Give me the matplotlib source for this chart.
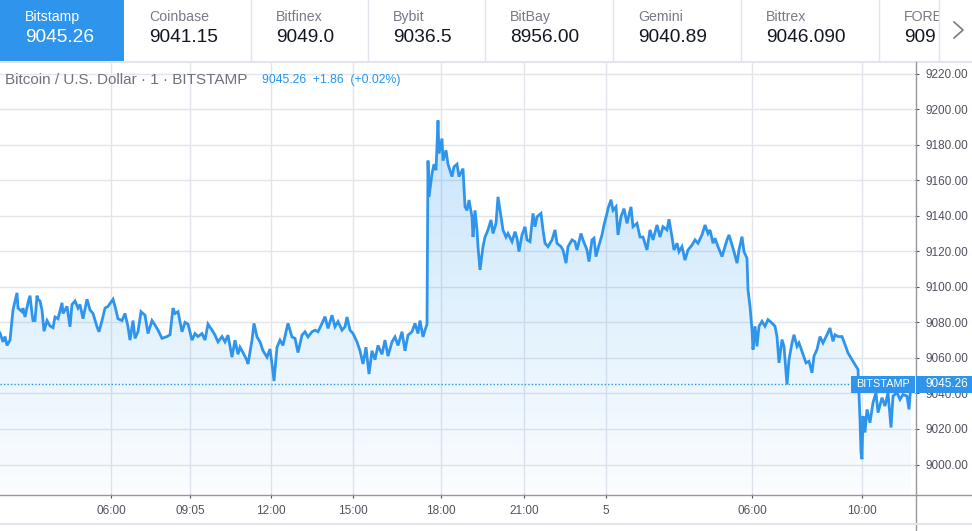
import numpy as np
import matplotlib
matplotlib.use("Agg")
import matplotlib.pyplot as plt
from matplotlib.patches import Polygon, Rectangle
from matplotlib.lines import Line2D

plt.rcParams['font.family'] = ['Liberation Sans', 'DejaVu Sans']

# ---- datos: ticker superior ----
exchanges = ["Bitstamp", "Coinbase", "Bitfinex", "Bybit", "BitBay", "Gemini", "Bittrex", "FORE"]
ex_prices = ["9045.26", "9041.15", "9049.0", "9036.5", "8956.00", "9040.89", "9046.090", "909"]

# ---- datos: serie BTC/USD (barra, precio) ----
bar_a = [0, 3, 5, 7, 10, 12, 13, 17, 18, 22, 23, 25, 28, 30, 32, 33, 35, 37, 38, 40,
         42, 44, 47, 50, 53, 55, 58, 62, 63, 67, 70, 72, 75, 78, 80, 83, 87, 90, 93, 97,
         99, 102, 105, 108, 113, 115, 118, 122, 125, 128, 130, 133, 135, 138, 141, 145, 148, 152, 155, 158,
         162, 167, 170, 173, 175, 178, 182, 185, 188, 192, 195, 198, 202, 205, 208, 212, 215, 218, 222, 225,
         228, 232, 235, 238]
price_a = [9074, 9069, 9072, 9067, 9070, 9081, 9087, 9096.6, 9088, 9086, 9088, 9083, 9091, 9095, 9085, 9081, 9081, 9095, 9093, 9092,
           9087, 9075, 9081, 9078, 9077, 9083, 9082, 9091, 9085, 9089, 9077.5, 9090, 9092, 9088, 9090, 9082, 9093, 9087, 9085, 9077.5,
           9074.7, 9081, 9088, 9089, 9093, 9089, 9082, 9081, 9085, 9077.5, 9070, 9081, 9071, 9074.7, 9086, 9084, 9073.7, 9081, 9078.5, 9075.6,
           9071, 9072, 9073, 9088, 9085, 9086, 9074.7, 9080, 9079, 9070, 9073.7, 9072, 9073.7, 9070, 9079, 9075.6, 9072.8, 9069, 9072, 9069,
           9072.8, 9060.4, 9070, 9062]

bar_b = [240, 243, 247, 248, 252, 254, 257, 260, 263, 267, 270, 272, 274, 277, 280, 283, 286, 288, 292, 295,
         298, 302, 305, 308, 312, 315, 318, 322, 325, 328, 332, 335, 338, 342, 345, 347, 350, 353, 357, 360,
         363, 366, 369, 372, 375, 378, 382, 385, 388, 392, 395, 398, 402, 405, 408, 412, 415, 418, 420, 423,
         425, 427]
price_b = [9066, 9063, 9058.5, 9056.6, 9070, 9079.4, 9071.8, 9069, 9064, 9060.4, 9065, 9056.6, 9047, 9066, 9070, 9067, 9074.7, 9079.4, 9071.8, 9071,
           9063, 9072.8, 9074.7, 9071.8, 9074.7, 9075.6, 9074.7, 9079.4, 9083.2, 9076.6, 9084, 9077.5, 9080.4, 9075.6, 9077.5, 9083, 9075.6, 9073.7, 9069, 9064,
           9056.6, 9066, 9050.9, 9064, 9059, 9067, 9062, 9070, 9061, 9069, 9071.8, 9067, 9074.7, 9064, 9072.8, 9074.7, 9079.4, 9073.7, 9081, 9071.8,
           9075.6, 9079]

bar_c = [428, 429, 432, 434, 436, 438, 439, 442, 443, 446, 448, 452, 454, 457, 459, 463, 465, 467, 469, 472,
         473, 475, 477, 478, 480, 483, 485, 488, 491, 493, 496, 498, 501, 503, 506, 508, 512, 515, 517, 519,
         522, 525, 527, 530, 533, 535, 537, 541, 543, 545, 548, 552, 555, 557, 561, 563, 566, 568, 572, 575,
         577, 581, 583, 587, 589, 592, 594, 596, 599, 602, 604, 607, 608, 611, 613, 616, 618, 621, 624, 627,
         631, 633, 637, 640, 643, 647, 650, 653, 657, 660]
price_c = [9171, 9150.6, 9163.7, 9169, 9165.6, 9193.6, 9175, 9183.4, 9171, 9176.8, 9169, 9162, 9167.5, 9169, 9162, 9166.5, 9145, 9143, 9148.8, 9139.4,
           9128, 9143, 9132, 9122.6, 9109.5, 9122.6, 9128, 9132, 9137.6, 9130, 9135.7, 9150.6, 9139.4, 9132, 9128, 9130, 9125.4, 9131, 9127.3, 9119.8,
           9129.2, 9133.8, 9126.4, 9125.4, 9141.3, 9133.8, 9139.4, 9141.3, 9132, 9124.5, 9122.6, 9126.4, 9132, 9124.5, 9122.6, 9120.7, 9113.3, 9122.6, 9126.4, 9125.4,
           9120.7, 9130, 9126.4, 9120.7, 9114.2, 9126.4, 9127.3, 9117, 9123.5, 9129.2, 9134.8, 9141.3, 9144, 9149, 9143, 9145, 9129.2, 9139.4, 9144, 9135.7,
           9145, 9133.8, 9135.7, 9128, 9128, 9120.7, 9132, 9126.4, 9134.8, 9128]

bar_d = [663, 667, 669, 672, 674, 677, 679, 682, 685, 688, 692, 695, 698, 702, 705, 708, 710, 713, 715, 718,
         722, 724, 727, 729, 732, 734, 737, 739, 742, 744, 747, 748, 750, 752, 753, 755, 757, 759, 762, 765,
         768, 772, 775, 777, 779, 782, 784, 787, 789, 792, 794, 797, 799, 803, 806, 809, 812, 814, 817, 820,
         823, 827, 830, 833, 835, 838, 842, 845, 848, 852, 855, 858, 860, 861, 862, 863, 865, 867, 870, 873,
         876, 878, 882, 885, 888, 891, 893, 897, 900, 903, 907, 909, 911]
price_d = [9133.8, 9132, 9138, 9128, 9120.7, 9124.5, 9119.8, 9122.6, 9115, 9120.7, 9123.5, 9126.4, 9124.5, 9129.2, 9134.8, 9130, 9132, 9124.5, 9127.3, 9122.6,
           9117, 9120.7, 9126.4, 9129.2, 9123.5, 9119.8, 9113.3, 9120.7, 9128.2, 9119.8, 9116, 9098.3, 9089, 9075.9, 9064.7, 9077.8, 9066.5, 9077.8, 9080.6, 9077.8,
           9081.5, 9079.6, 9077.8, 9072, 9057.2, 9070.3, 9066.5, 9045, 9059, 9068.4, 9073, 9066.5, 9068.4, 9061.9, 9057.2, 9058.1, 9051.6, 9061, 9064.7, 9072,
           9068.4, 9073, 9076.8, 9069.3, 9073, 9072, 9072, 9067.5, 9062.8, 9059, 9056.3, 9053.5, 9025.4, 9006.7, 9003, 9027.3, 9018, 9031, 9023.5, 9034.8,
           9040.4, 9029.2, 9037.6, 9032.9, 9040.4, 9020.8, 9038.5, 9040.4, 9036.6, 9039.4, 9038.5, 9031, 9045.26]

tick_bars = [111, 190, 271, 353, 441, 524, 606, 752, 862]
tick_labels = ["06:00", "09:05", "12:00", "15:00", "18:00", "21:00", "5", "06:00", "10:00"]
y_ticks = list(range(9000, 9221, 20))
last_price = 9045.26

bar = np.array(bar_a + bar_b + bar_c + bar_d, dtype=float)
price = np.array(price_a + price_b + price_c + price_d)
assert len(bar) == len(price)

#%% colores
blue = "#2f95ec"
grid_c = "#e3e5ec"
text_c = "#50535e"
W, H = 972, 531

def fx(px):
    return px / W

def fy(py):
    return 1 - py / H

fig = plt.figure(figsize=(9.72, 5.31), dpi=100)
fig.patch.set_facecolor("white")

#%% barra superior de exchanges
cell_x = [0, 124, 251, 368, 485, 613, 741, 879]
fig.patches.append(Rectangle((0, fy(61)), fx(124), 61 / H, transform=fig.transFigure,
                             facecolor=blue, edgecolor="none", zorder=1))
for i, (name, pr) in enumerate(zip(exchanges, ex_prices)):
    c1 = "white" if i == 0 else "#787b86"
    c2 = "white" if i == 0 else "#131722"
    fig.text(fx(cell_x[i] + 25), fy(17), name, color=c1, fontsize=10.2, ha="left", va="center", zorder=3)
    fig.text(fx(cell_x[i] + 25), fy(38), pr, color=c2, fontsize=13.8, ha="left", va="center", zorder=3)
# tapa para cortar la ultima celda
fig.patches.append(Rectangle((fx(939), fy(60)), fx(33), 60 / H, transform=fig.transFigure,
                             facecolor="white", edgecolor="none", zorder=4))
for sx in [251, 368, 485, 613, 741, 879, 939]:
    fig.lines.append(Line2D([fx(sx), fx(sx)], [fy(0), fy(61)], transform=fig.transFigure, color=grid_c, lw=1, zorder=5))
fig.lines.append(Line2D([0, 1], [fy(61.5), fy(61.5)], transform=fig.transFigure, color=grid_c, lw=1.5, zorder=5))
fig.lines.append(Line2D([fx(954), fx(963), fx(954)], [fy(22), fy(30), fy(38)], transform=fig.transFigure,
                        color="#787b86", lw=1.2, zorder=5))

#%% grafico principal
ax = fig.add_axes([0, fy(494), fx(915), (494 - 62) / H])
ylo, yhi = 8983.4, 9226.5
ax.set_xlim(0, 915)
ax.set_ylim(ylo, yhi)

# relleno con degradado
grad = np.linspace(0.26, 0.02, 256).reshape(-1, 1)
img = np.zeros((256, 1, 4))
img[..., 0] = 0.13
img[..., 1] = 0.59
img[..., 2] = 0.95
img[..., 3] = grad
im = ax.imshow(img, extent=[0, 915, ylo, 9200], aspect="auto", origin="upper", zorder=1)
verts = np.column_stack([np.r_[bar[0], bar, bar[-1]], np.r_[ylo, price, ylo]])
clip = Polygon(verts, closed=True, facecolor="none", edgecolor="none", transform=ax.transData)
ax.add_patch(clip)
im.set_clip_path(clip)
ax.set_xlim(0, 915)
ax.set_ylim(ylo, yhi)

ax.plot(bar, price, color=blue, lw=2.0, zorder=3, solid_joinstyle="miter")
ax.axhline(last_price, xmin=0, xmax=851 / 915, color=blue, lw=1, ls=(0, (1, 1.5)), zorder=2)

ax.set_xticks(tick_bars)
ax.set_xticklabels(tick_labels)
ax.set_yticks(y_ticks)
ax.set_yticklabels([f"{v:.2f}" for v in y_ticks])
ax.yaxis.tick_right()
ax.tick_params(axis="y", length=2.9, pad=4.3, color=text_c, labelcolor=text_c, labelsize=8.5)
ax.tick_params(axis="x", length=2.9, pad=5, color=text_c, labelcolor=text_c, labelsize=8.5)
ax.grid(True, color=grid_c, lw=1)
ax.set_axisbelow(True)
for s in ax.spines.values():
    s.set_visible(False)

# titulo y leyenda
fig.text(fx(5), fy(80), "Bitcoin / U.S. Dollar · 1 · BITSTAMP", color="#6f727d", fontsize=11, ha="left", va="center")
fig.text(fx(262), fy(80), "9045.26  +1.86  (+0.02%)", color="#2196f3", fontsize=8.8, ha="left", va="center")

# lineas de ejes
fig.lines.append(Line2D([0, 1], [fy(494.5), fy(494.5)], transform=fig.transFigure, color="#9598a1", lw=1, zorder=5))
fig.lines.append(Line2D([fx(915.5), fx(915.5)], [fy(62), fy(531)], transform=fig.transFigure, color="#9598a1", lw=1, zorder=5))
fig.lines.append(Line2D([0, 1], [fy(523.5), fy(523.5)], transform=fig.transFigure, color=grid_c, lw=1.5, zorder=5))

# etiquetas del ultimo precio
fig.canvas.draw()
ypix = ax.transData.transform((0, last_price))[1]
yc = ypix / H
hbox = 17 / H
fig.patches.append(Rectangle((fx(851), yc - hbox / 2), fx(64), hbox, transform=fig.transFigure,
                             facecolor=blue, edgecolor="none", zorder=6))
fig.patches.append(Rectangle((fx(916), yc - hbox / 2), fx(56), hbox, transform=fig.transFigure,
                             facecolor=blue, edgecolor="none", zorder=6))
fig.text(fx(883), yc, "BITSTAMP", color="white", fontsize=7.8, ha="center", va="center", zorder=7)
fig.text(fx(946.5), yc, f"{last_price:.2f}", color="white", fontsize=8.5, ha="center", va="center", zorder=7)

fig.savefig("out.png", dpi=100, facecolor="white")
